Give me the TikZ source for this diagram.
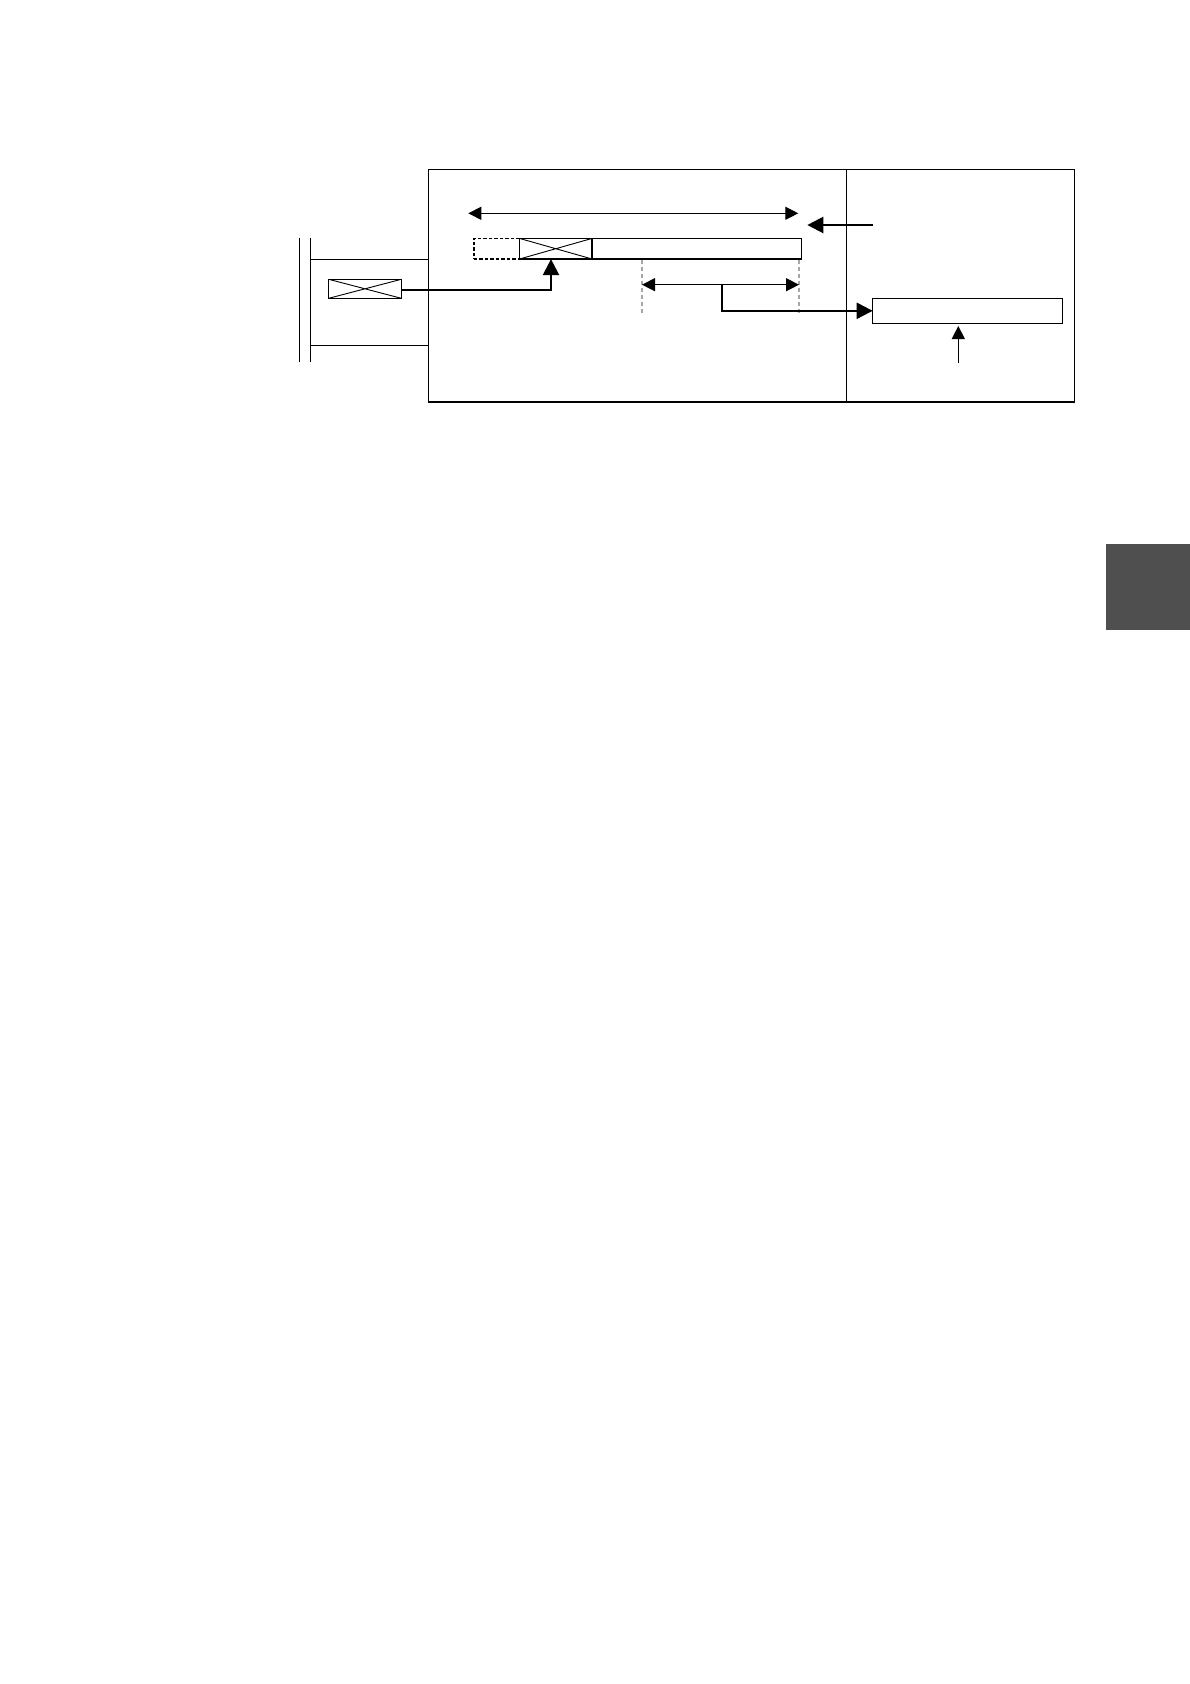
\documentclass[tikz,border=0pt]{standalone}
\usetikzlibrary{arrows.meta,calc}
\begin{document}
\begin{tikzpicture}[x=1pt,y=-1pt,
  frame/.style={draw=black,line width=1.3pt},
  boxnode/.style={draw=black,line width=1.2pt,inner sep=0pt,outer sep=0pt},
  dashbox/.style={draw=black,line width=1.6pt,dash pattern=on 3.5pt off 2pt,inner sep=0pt,outer sep=0pt},
  crossline/.style={line width=0.9pt},
  dimarrow/.style={line width=1.3pt,{Triangle[length=13pt,width=13pt]}-{Triangle[length=13pt,width=13pt]}},
  conn/.style={line width=2.2pt,-{Triangle[length=16pt,width=16pt]}},
  guide/.style={draw=gray!70,line width=1.2pt,dash pattern=on 4pt off 3pt}]
\useasboundingbox (0,0) rectangle (1190,1684);
% frames
\draw[frame] (428.3,169.3) -- (1074.7,169.3) -- (1074.7,401.7);
\draw[frame] (428.3,169.3) -- (428.3,401.7);
\draw[line width=2.2pt] (427.6,401.7) -- (1075.4,401.7);
\draw[frame] (846.7,169.3) -- (846.7,401.7);
% left double bar and pipe
\draw[line width=1.2pt] (299.3,238.3) -- (299.3,362.3);
\draw[line width=1.2pt] (310.3,238.3) -- (310.3,362.3);
\draw[line width=1.1pt] (310.3,259.4) -- (428.3,259.4);
\draw[line width=1.1pt] (310.3,345.3) -- (428.3,345.3);
% boxes
\node[boxnode,minimum width=72.6pt,minimum height=19pt] (small) at (365,288.8) {};
\draw[crossline] (small.north west) -- (small.south east) (small.south west) -- (small.north east);
\node[dashbox,minimum width=45.6pt,minimum height=20.7pt] (ghost) at (496.5,248.7) {};
\node[boxnode,minimum width=73pt,minimum height=20.7pt] (cross) at (555.8,248.7) {};
\draw[crossline] (cross.north west) -- (cross.south east) (cross.south west) -- (cross.north east);
\node[boxnode,minimum width=209.4pt,minimum height=20.7pt] (bar) at (697,248.7) {};
\draw[line width=1.8pt] (cross.north east) -- (cross.south east);
\node[boxnode,minimum width=190pt,minimum height=25pt] (rbox) at (967.7,310.8) {};
% guides
\draw[guide] (642,259.5) -- (642,314);
\draw[guide] (799,259.5) -- (799,314);
% dimension arrows
\coordinate (d1a) at (468.3,213.3);
\coordinate (d1b) at (798.3,213.3);
\draw[dimarrow] (d1a) -- (d1b);
\coordinate (d2a) at (642,284.7);
\coordinate (d2b) at (799,284.7);
\draw[dimarrow] (d2a) -- (d2b);
% connectors
\coordinate (sout) at (401.3,290);
\coordinate (bend) at (551,290);
\coordinate (cin) at (551,259.1);
\draw[conn] (sout) -- (bend) -- (cin);
\coordinate (tap) at (722,284.7);
\draw[conn] (tap) |- (rbox.west);
\coordinate (lin) at (873,225);
\coordinate (lout) at (807.3,225);
\draw[conn] (lin) -- (lout);
\coordinate (uin) at (958.3,363.3);
\coordinate (uout) at (958.3,326);
\draw[line width=1.3pt,-{Triangle[length=13pt,width=13pt]}] (uin) -- (uout);
% gray tab
\fill[fill={rgb,255:red,79;green,79;blue,79}] (1106,544) rectangle (1190,630);
\end{tikzpicture}
\end{document}
